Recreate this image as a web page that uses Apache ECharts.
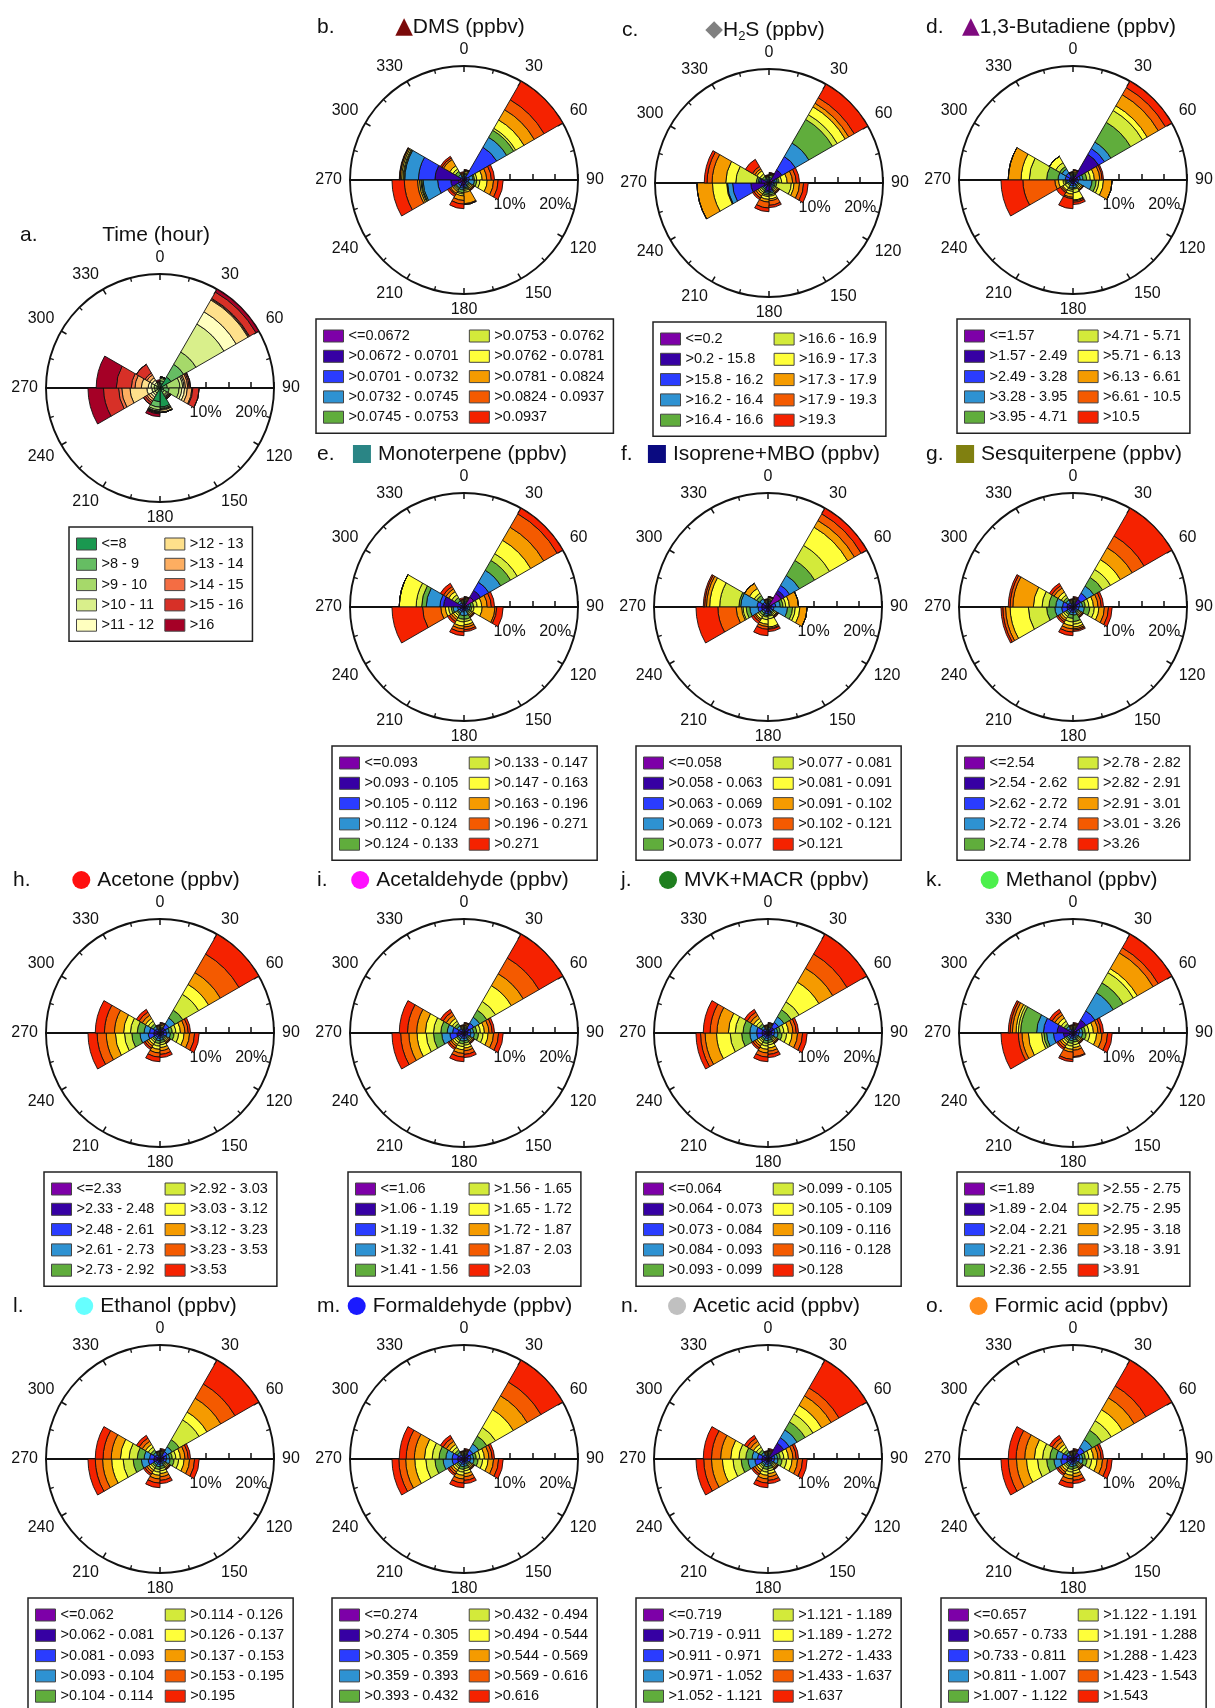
<!DOCTYPE html>
<html>
<head>
<meta charset="utf-8">
<script src="https://cdn.jsdelivr.net/npm/echarts@6/dist/echarts.min.js"></script>
<style>
  html, body { margin: 0; padding: 0; background: #fff; }
  #chart { width: 1215px; height: 1708px; }
</style>
</head>
<body>
<div id="chart"></div>
<script>
// wind sectors, clockwise from north
const sectors = ['0-30', '30-60', '60-90', '90-120', '120-150', '150-180',
  '180-210', '210-240', '240-270', '270-300', '300-330', '330-360'];

const rainbowColors = ['#7d00a8', '#3600a3', '#2a3cff', '#2e92d2', '#60ad3c',
  '#d3ea3a', '#ffff3a', '#f59b00', '#f45a00', '#f52200'];
const timeColors = ['#1a9850', '#66bd63', '#a6d96a', '#d9ef8b', '#ffffbf',
  '#fee08b', '#fdae61', '#f46d43', '#d73027', '#a50026'];

// legend class names
const timeNames = ['<=8', '>8 - 9', '>9 - 10', '>10 - 11', '>11 - 12', '>12 - 13', '>13 - 14', '>14 - 15', '>15 - 16', '>16'];
const dmsNames = ['<=0.0672', '>0.0672 - 0.0701', '>0.0701 - 0.0732', '>0.0732 - 0.0745', '>0.0745 - 0.0753', '>0.0753 - 0.0762', '>0.0762 - 0.0781', '>0.0781 - 0.0824', '>0.0824 - 0.0937', '>0.0937'];
const h2sNames = ['<=0.2', '>0.2 - 15.8', '>15.8 - 16.2', '>16.2 - 16.4', '>16.4 - 16.6', '>16.6 - 16.9', '>16.9 - 17.3', '>17.3 - 17.9', '>17.9 - 19.3', '>19.3'];
const butNames = ['<=1.57', '>1.57 - 2.49', '>2.49 - 3.28', '>3.28 - 3.95', '>3.95 - 4.71', '>4.71 - 5.71', '>5.71 - 6.13', '>6.13 - 6.61', '>6.61 - 10.5', '>10.5'];
const monoNames = ['<=0.093', '>0.093 - 0.105', '>0.105 - 0.112', '>0.112 - 0.124', '>0.124 - 0.133', '>0.133 - 0.147', '>0.147 - 0.163', '>0.163 - 0.196', '>0.196 - 0.271', '>0.271'];
const isoNames = ['<=0.058', '>0.058 - 0.063', '>0.063 - 0.069', '>0.069 - 0.073', '>0.073 - 0.077', '>0.077 - 0.081', '>0.081 - 0.091', '>0.091 - 0.102', '>0.102 - 0.121', '>0.121'];
const sesqNames = ['<=2.54', '>2.54 - 2.62', '>2.62 - 2.72', '>2.72 - 2.74', '>2.74 - 2.78', '>2.78 - 2.82', '>2.82 - 2.91', '>2.91 - 3.01', '>3.01 - 3.26', '>3.26'];
const acetoneNames = ['<=2.33', '>2.33 - 2.48', '>2.48 - 2.61', '>2.61 - 2.73', '>2.73 - 2.92', '>2.92 - 3.03', '>3.03 - 3.12', '>3.12 - 3.23', '>3.23 - 3.53', '>3.53'];
const acetalNames = ['<=1.06', '>1.06 - 1.19', '>1.19 - 1.32', '>1.32 - 1.41', '>1.41 - 1.56', '>1.56 - 1.65', '>1.65 - 1.72', '>1.72 - 1.87', '>1.87 - 2.03', '>2.03'];
const mvkNames = ['<=0.064', '>0.064 - 0.073', '>0.073 - 0.084', '>0.084 - 0.093', '>0.093 - 0.099', '>0.099 - 0.105', '>0.105 - 0.109', '>0.109 - 0.116', '>0.116 - 0.128', '>0.128'];
const methNames = ['<=1.89', '>1.89 - 2.04', '>2.04 - 2.21', '>2.21 - 2.36', '>2.36 - 2.55', '>2.55 - 2.75', '>2.75 - 2.95', '>2.95 - 3.18', '>3.18 - 3.91', '>3.91'];
const ethNames = ['<=0.062', '>0.062 - 0.081', '>0.081 - 0.093', '>0.093 - 0.104', '>0.104 - 0.114', '>0.114 - 0.126', '>0.126 - 0.137', '>0.137 - 0.153', '>0.153 - 0.195', '>0.195'];
const formaldNames = ['<=0.274', '>0.274 - 0.305', '>0.305 - 0.359', '>0.359 - 0.393', '>0.393 - 0.432', '>0.432 - 0.494', '>0.494 - 0.544', '>0.544 - 0.569', '>0.569 - 0.616', '>0.616'];
const aceticNames = ['<=0.719', '>0.719 - 0.911', '>0.911 - 0.971', '>0.971 - 1.052', '>1.052 - 1.121', '>1.121 - 1.189', '>1.189 - 1.272', '>1.272 - 1.433', '>1.433 - 1.637', '>1.637'];
const formicNames = ['<=0.657', '>0.657 - 0.733', '>0.733 - 0.811', '>0.811 - 1.007', '>1.007 - 1.122', '>1.122 - 1.191', '>1.191 - 1.288', '>1.288 - 1.423', '>1.423 - 1.543', '>1.543'];

// frequency (%) per sector (rows = sectors 0-30 ... 330-360), columns = legend classes
const timeData = [
  [1.0, 0.6, 0.5, 0.3, 0, 0, 0, 0, 0, 0],
  [2.8, 3.2, 3.1, 7.1, 3.1, 3.0, 0.2, 0.2, 1.6, 0.7],
  [0.6, 1.0, 2.8, 0.6, 0.3, 0.3, 0.5, 0.3, 0.3, 0],
  [0.8, 1.2, 2.2, 0.6, 0.6, 0.6, 1.0, 0.2, 1.4, 0],
  [0.6, 0.5, 0.6, 0.3, 0.2, 0.2, 0.2, 0, 0.2, 0],
  [4.2, 0.3, 0.2, 0.1, 0.1, 0.4, 0.1, 0, 0, 0],
  [3.0, 1.2, 0.6, 0.3, 0.1, 0.1, 0.1, 0.1, 0.2, 0.6],
  [0.3, 0.4, 0.6, 0.5, 0.5, 0.5, 0.5, 0.4, 0.5, 0],
  [0.3, 0.4, 0.5, 0.6, 1.1, 3.7, 1.8, 0.7, 3.3, 3.4],
  [0.3, 0.4, 0.6, 0.7, 0.6, 1.5, 1.4, 0.8, 3.3, 4.4],
  [0.2, 0.3, 0.4, 0.5, 0.6, 0.6, 0.7, 0.5, 2.2, 0],
  [0.2, 0.2, 0.2, 0.2, 0.2, 0.2, 0.1, 0.1, 0.1, 0.3]
];
const dmsData = [
  [0.3, 0.3, 0.3, 0.3, 0.2, 0.2, 0.3, 0.2, 0.1, 0.1],
  [0.3, 0.5, 7.5, 2.5, 1.8, 0.5, 2.1, 2.6, 2.5, 4.7],
  [0.3, 0.3, 0.6, 0.8, 0.3, 0.5, 1.2, 1.0, 1.0, 0.7],
  [0.2, 0.3, 0.5, 1.3, 0.5, 0.7, 1.6, 1.4, 1.0, 1.1],
  [0.2, 0.2, 0.4, 0.4, 0.3, 0.3, 0.3, 0.3, 0.2, 0.1],
  [0.5, 0.5, 0.4, 0.3, 0.3, 0.3, 0.4, 2.5, 0.2, 0],
  [1.0, 0.4, 0.4, 0.4, 0.6, 0.3, 0.4, 1.0, 0.8, 1.0],
  [0.6, 0.4, 0.5, 0.5, 0.3, 0.3, 0.3, 0.5, 0.3, 0.5],
  [1.2, 1.7, 2.9, 3.2, 0.3, 0.2, 0.3, 0.4, 2.9, 2.7],
  [0.8, 5.6, 3.6, 3.0, 0.2, 0.2, 0.3, 0.3, 0.1, 0.1],
  [0.3, 0.3, 0.3, 0.5, 0.8, 0.6, 0.8, 1.6, 0.4, 0.4],
  [0.2, 0.2, 0.2, 0.2, 0.1, 0.1, 0.2, 0.2, 0.2, 0.2]
];
const h2sData = [
  [0.3, 0.3, 0.3, 0.3, 0.5, 0.2, 0.1, 0.1, 0.1, 0.1],
  [1.0, 2.3, 3.4, 3.4, 6.0, 1.2, 2.0, 0.9, 1.4, 3.4],
  [0.6, 0.4, 0.4, 0.4, 0.4, 0.6, 1.2, 1.2, 0.8, 0.7],
  [0.3, 0.3, 0.4, 0.3, 0.4, 3.2, 0.6, 1.2, 0.9, 1.0],
  [0.3, 0.3, 0.3, 0.3, 0.3, 0.3, 0.3, 0.3, 0.2, 0.1],
  [0.6, 1.0, 0.3, 0.3, 0.4, 0.3, 0.6, 0.4, 1.0, 0.5],
  [0.5, 1.2, 0.3, 0.3, 0.4, 0.3, 0.6, 0.6, 1.3, 0.8],
  [0.5, 0.5, 0.3, 0.3, 0.4, 0.4, 0.4, 0.5, 0.5, 0.4],
  [1.0, 3.0, 4.0, 1.1, 0.1, 0.1, 3.1, 3.4, 0, 0],
  [0.5, 1.3, 0.3, 0.3, 0.4, 4.5, 2.2, 3.0, 1.1, 0.6],
  [0.3, 0.3, 0.3, 0.3, 0.5, 0.6, 0.8, 0.5, 0.6, 1.8],
  [0.2, 0.2, 0.2, 0.3, 0.3, 0.2, 0.1, 0.1, 0.1, 0.1]
];
const butData = [
  [0.5, 0.3, 0.2, 0.2, 0.2, 0.2, 0.2, 0.3, 0.1, 0.1],
  [1.0, 5.5, 1.5, 1.6, 5.0, 3.0, 1.2, 2.8, 1.8, 1.6],
  [0.4, 0.6, 0.6, 0.6, 0.8, 0.8, 0.9, 1.2, 0.5, 0.3],
  [0.3, 0.4, 0.5, 3.0, 0.9, 0.6, 1.0, 1.9, 0, 0],
  [0.3, 0.3, 0.4, 0.3, 0.3, 0.3, 0.3, 0.3, 0.1, 0.1],
  [0.4, 0.4, 0.4, 0.5, 0.3, 0.8, 1.6, 0.2, 0.3, 0.5],
  [0.3, 0.5, 0.5, 0.5, 0.3, 0.4, 0.6, 0.7, 0.3, 2.2],
  [0.2, 0.3, 0.3, 0.3, 0.3, 0.6, 0.6, 0.3, 0.3, 1.0],
  [0.4, 0.4, 0.4, 0.3, 0.3, 0.4, 1.0, 0.8, 7.0, 4.8],
  [0.3, 0.5, 0.9, 1.6, 2.5, 3.8, 1.8, 2.8, 0, 0],
  [0.3, 0.5, 1.0, 1.0, 0.6, 1.0, 1.6, 0, 0, 0],
  [0.3, 0.3, 0.3, 0.2, 0.2, 0.2, 0.1, 0.1, 0.05, 0.05]
];
const monoData = [
  [0.6, 0.3, 0.2, 0.2, 0.2, 0.2, 0.2, 0.2, 0.1, 0.1],
  [2.5, 1.7, 2.1, 3.0, 2.5, 1.7, 3.4, 3.3, 3.4, 1.4],
  [0.3, 0.4, 0.4, 0.4, 0.6, 0.8, 1.0, 1.2, 0.9, 0.7],
  [0.2, 0.3, 0.4, 0.4, 0.4, 0.5, 1.8, 2.8, 0.4, 1.4],
  [0.3, 0.3, 0.3, 0.3, 0.3, 0.3, 0.3, 0.3, 0.2, 0.1],
  [0.3, 0.3, 0.3, 1.0, 0.8, 0.5, 0.7, 0.5, 0.6, 0.4],
  [0.3, 0.4, 0.4, 0.8, 0.8, 0.6, 0.9, 0.6, 0.7, 0.8],
  [0.3, 0.4, 0.4, 0.4, 0.3, 0.4, 0.5, 0.5, 0.5, 0.5],
  [0.4, 0.5, 0.5, 1.0, 0.4, 0.6, 0.7, 1.0, 4.0, 6.7],
  [0.6, 3.9, 0.8, 3.0, 1.0, 1.2, 3.7, 0, 0, 0],
  [0.3, 0.4, 0.4, 0.5, 0.8, 0.7, 0.8, 0.7, 0.6, 0.8],
  [0.2, 0.2, 0.2, 0.2, 0.2, 0.2, 0.2, 0.2, 0.1, 0.3]
];
const isoData = [
  [0.5, 0.3, 0.3, 0.2, 0.2, 0.2, 0.3, 0.2, 0.05, 0.05],
  [3.4, 0.8, 1.3, 2.5, 3.8, 3.8, 4.6, 1.7, 1.7, 1.4],
  [0.5, 0.4, 0.8, 1.0, 0.6, 0.6, 0.8, 2.0, 0, 0],
  [0.3, 0.4, 0.6, 3.0, 1.1, 0.6, 1.0, 1.6, 0, 0],
  [0.4, 0.3, 0.3, 0.3, 0.3, 0.3, 0.3, 0.2, 0.2, 0.1],
  [0.4, 0.6, 0.4, 0.3, 0.3, 0.6, 1.8, 0.3, 0.2, 0.5],
  [0.4, 0.7, 0.4, 0.4, 0.3, 0.6, 1.0, 0.5, 0.6, 1.4],
  [0.3, 0.3, 0.6, 0.4, 0.5, 0.4, 0.5, 0.3, 0.4, 0.5],
  [0.5, 0.9, 0.8, 1.8, 0.8, 0.7, 0.3, 1.2, 4.0, 4.8],
  [0.6, 0.8, 1.0, 3.6, 0.4, 4.2, 2.2, 0.7, 0.4, 0.3],
  [0.3, 0.4, 0.6, 0.8, 0.8, 0.6, 1.2, 1.3, 0, 0],
  [0.2, 0.2, 0.2, 0.2, 0.2, 0.2, 0.2, 0.2, 0.1, 0.1]
];
const sesqData = [
  [0.3, 0.3, 0.3, 0.2, 0.2, 0.2, 0.2, 0.2, 0.2, 0.2],
  [0.8, 1.2, 1.5, 1.8, 2.2, 2.0, 2.5, 3.0, 3.0, 7.0],
  [0.4, 0.5, 0.6, 0.6, 0.6, 0.8, 1.0, 1.0, 0.7, 0.5],
  [0.3, 0.4, 0.6, 1.2, 1.2, 1.0, 1.0, 1.2, 0.9, 0.8],
  [0.3, 0.3, 0.3, 0.3, 0.3, 0.3, 0.3, 0.3, 0.2, 0.1],
  [0.3, 0.4, 0.5, 0.6, 1.4, 0.6, 0.6, 0.4, 0.3, 0.3],
  [0.3, 0.4, 0.5, 0.5, 0.8, 0.8, 0.8, 0.7, 0.7, 0.8],
  [0.3, 0.4, 0.4, 0.4, 0.4, 0.5, 0.5, 0.5, 0.4, 0.4],
  [0.5, 0.8, 1.2, 1.5, 1.8, 4.0, 4.0, 1.0, 0.6, 0.4],
  [0.5, 0.8, 1.0, 1.5, 1.5, 1.5, 1.9, 4.5, 0.6, 0.4],
  [0.3, 0.4, 0.5, 0.6, 0.6, 0.6, 0.8, 1.0, 0.6, 0.6],
  [0.2, 0.2, 0.2, 0.2, 0.2, 0.2, 0.2, 0.2, 0.1, 0.1]
];
const acetoneData = [
  [0.3, 0.3, 0.2, 0.2, 0.2, 0.2, 0.3, 0.3, 0.2, 0.1],
  [0.5, 0.8, 1.0, 1.5, 2.0, 4.0, 2.5, 3.0, 4.7, 5.0],
  [0.4, 0.5, 0.5, 0.6, 0.7, 0.8, 1.0, 1.0, 0.7, 0.5],
  [0.3, 0.5, 0.7, 0.8, 0.8, 1.0, 1.2, 1.2, 1.1, 1.0],
  [0.3, 0.3, 0.3, 0.3, 0.3, 0.3, 0.3, 0.3, 0.2, 0.1],
  [0.3, 0.4, 0.4, 0.5, 0.5, 0.5, 0.6, 0.7, 0.8, 0.7],
  [0.3, 0.4, 0.5, 0.5, 0.6, 0.6, 0.7, 0.8, 0.9, 1.0],
  [0.3, 0.4, 0.4, 0.4, 0.4, 0.4, 0.5, 0.5, 0.5, 0.4],
  [0.6, 0.8, 1.2, 1.8, 1.8, 1.6, 2.0, 2.0, 2.0, 2.0],
  [0.5, 0.8, 1.0, 1.2, 1.5, 1.5, 1.5, 2.0, 2.2, 2.0],
  [0.3, 0.4, 0.5, 0.5, 0.6, 0.7, 0.7, 0.8, 0.8, 0.7],
  [0.2, 0.2, 0.2, 0.2, 0.2, 0.2, 0.2, 0.2, 0.1, 0.1]
];
const acetalData = [
  [0.3, 0.3, 0.3, 0.2, 0.2, 0.2, 0.2, 0.3, 0.2, 0.1],
  [0.5, 0.8, 1.2, 1.5, 1.8, 2.2, 4.0, 3.0, 4.0, 6.0],
  [0.4, 0.5, 0.6, 0.6, 0.7, 0.8, 0.9, 1.0, 0.7, 0.5],
  [0.3, 0.5, 0.7, 0.8, 0.9, 1.0, 1.1, 1.2, 1.1, 1.0],
  [0.3, 0.3, 0.3, 0.3, 0.3, 0.3, 0.3, 0.3, 0.2, 0.1],
  [0.3, 0.4, 0.5, 0.5, 0.5, 0.5, 0.6, 0.6, 0.8, 0.7],
  [0.3, 0.4, 0.5, 0.6, 0.6, 0.6, 0.7, 0.8, 0.8, 1.0],
  [0.3, 0.4, 0.4, 0.4, 0.4, 0.5, 0.5, 0.4, 0.5, 0.4],
  [0.6, 1.0, 1.5, 1.8, 1.8, 1.6, 2.0, 1.8, 1.8, 1.9],
  [0.5, 0.8, 1.2, 1.2, 1.4, 1.6, 1.8, 1.9, 2.0, 1.8],
  [0.3, 0.4, 0.5, 0.6, 0.6, 0.6, 0.7, 0.8, 0.8, 0.7],
  [0.2, 0.2, 0.2, 0.2, 0.2, 0.2, 0.2, 0.2, 0.1, 0.1]
];
const mvkData = [
  [0.3, 0.3, 0.3, 0.3, 0.2, 0.2, 0.2, 0.2, 0.2, 0.1],
  [0.6, 0.9, 1.2, 1.4, 1.8, 2.0, 5.0, 3.5, 3.6, 5.0],
  [0.4, 0.5, 0.6, 0.6, 0.6, 0.8, 1.0, 1.0, 0.7, 0.5],
  [0.3, 0.5, 0.6, 0.8, 0.9, 1.0, 1.2, 1.2, 1.1, 1.0],
  [0.3, 0.3, 0.3, 0.3, 0.3, 0.3, 0.3, 0.3, 0.2, 0.1],
  [0.3, 0.4, 0.4, 0.5, 0.5, 0.5, 0.7, 0.7, 0.7, 0.7],
  [0.3, 0.4, 0.5, 0.5, 0.6, 0.6, 0.7, 0.8, 0.9, 1.0],
  [0.3, 0.4, 0.4, 0.4, 0.4, 0.4, 0.5, 0.5, 0.5, 0.4],
  [0.5, 0.8, 1.2, 1.5, 1.8, 2.5, 3.0, 2.5, 1.0, 1.0],
  [0.5, 0.8, 1.2, 1.5, 1.5, 1.7, 1.5, 2.5, 1.5, 1.5],
  [0.3, 0.4, 0.5, 0.5, 0.6, 0.7, 0.7, 0.8, 0.8, 0.7],
  [0.2, 0.2, 0.2, 0.2, 0.2, 0.2, 0.2, 0.2, 0.1, 0.1]
];
const methData = [
  [0.3, 0.3, 0.3, 0.2, 0.2, 0.2, 0.2, 0.2, 0.2, 0.2],
  [1.0, 2.3, 2.3, 4.6, 2.5, 2.6, 1.0, 4.0, 1.3, 3.4],
  [0.4, 0.5, 0.6, 0.6, 0.6, 0.8, 1.0, 1.0, 0.6, 0.6],
  [0.3, 0.4, 0.6, 0.8, 0.8, 0.8, 1.5, 1.2, 1.2, 1.0],
  [0.3, 0.3, 0.3, 0.3, 0.3, 0.3, 0.3, 0.3, 0.2, 0.1],
  [0.3, 0.4, 0.4, 0.4, 0.5, 0.6, 0.6, 0.6, 1.4, 0.2],
  [0.3, 0.4, 0.5, 0.5, 0.6, 0.6, 0.7, 0.6, 1.6, 0.5],
  [0.3, 0.4, 0.4, 0.4, 0.4, 0.4, 0.5, 0.5, 0.5, 0.4],
  [0.8, 1.3, 2.2, 1.5, 0.6, 0.5, 2.9, 1.4, 0.8, 3.8],
  [0.5, 3.0, 3.0, 1.5, 3.5, 0.5, 0.5, 0.8, 0.5, 0.4],
  [0.3, 0.4, 0.5, 0.5, 0.6, 0.7, 0.8, 0.8, 0.7, 0.7],
  [0.2, 0.2, 0.2, 0.2, 0.2, 0.2, 0.2, 0.2, 0.1, 0.1]
];
const ethData = [
  [0.3, 0.3, 0.3, 0.2, 0.2, 0.2, 0.2, 0.2, 0.2, 0.2],
  [0.4, 0.6, 0.9, 1.2, 1.8, 5.0, 2.0, 3.5, 3.6, 6.0],
  [0.4, 0.5, 0.6, 0.6, 0.6, 0.8, 1.0, 1.0, 0.7, 0.5],
  [0.3, 0.5, 0.6, 0.8, 0.9, 1.0, 1.2, 1.2, 1.1, 1.0],
  [0.3, 0.3, 0.3, 0.3, 0.3, 0.3, 0.3, 0.3, 0.2, 0.1],
  [0.3, 0.4, 0.4, 0.5, 0.5, 0.5, 0.6, 0.7, 0.8, 0.7],
  [0.3, 0.4, 0.5, 0.5, 0.6, 0.6, 0.7, 0.8, 0.9, 1.0],
  [0.3, 0.4, 0.4, 0.4, 0.4, 0.4, 0.5, 0.5, 0.5, 0.4],
  [0.6, 0.8, 1.2, 1.5, 1.8, 2.2, 2.5, 2.0, 1.6, 1.6],
  [0.5, 0.8, 1.0, 1.2, 1.5, 1.8, 1.9, 2.0, 1.8, 1.7],
  [0.3, 0.4, 0.5, 0.5, 0.6, 0.7, 0.7, 0.8, 0.8, 0.7],
  [0.2, 0.2, 0.2, 0.2, 0.2, 0.2, 0.2, 0.2, 0.1, 0.1]
];
const formaldData = [
  [0.3, 0.3, 0.3, 0.2, 0.2, 0.2, 0.2, 0.2, 0.2, 0.2],
  [0.5, 0.8, 1.0, 1.5, 2.0, 2.2, 4.5, 3.5, 3.5, 5.5],
  [0.4, 0.5, 0.6, 0.6, 0.6, 0.8, 1.0, 1.0, 0.7, 0.5],
  [0.3, 0.5, 0.6, 0.8, 0.9, 1.0, 1.2, 1.2, 1.1, 1.0],
  [0.3, 0.3, 0.3, 0.3, 0.3, 0.3, 0.3, 0.3, 0.2, 0.1],
  [0.3, 0.4, 0.4, 0.5, 0.5, 0.5, 0.6, 0.7, 0.8, 0.7],
  [0.3, 0.4, 0.5, 0.5, 0.6, 0.6, 0.7, 0.8, 0.9, 1.0],
  [0.3, 0.4, 0.4, 0.4, 0.4, 0.4, 0.5, 0.5, 0.5, 0.4],
  [0.6, 0.8, 1.2, 2.0, 1.8, 2.0, 2.4, 2.0, 1.5, 1.5],
  [0.6, 0.8, 1.2, 1.4, 1.5, 1.5, 1.7, 2.2, 1.8, 1.5],
  [0.3, 0.4, 0.5, 0.5, 0.6, 0.7, 0.7, 0.8, 0.8, 0.7],
  [0.2, 0.2, 0.2, 0.2, 0.2, 0.2, 0.2, 0.2, 0.1, 0.1]
];
const aceticData = [
  [0.3, 0.3, 0.3, 0.2, 0.2, 0.2, 0.2, 0.2, 0.2, 0.2],
  [0.6, 3.4, 1.4, 2.0, 2.0, 2.0, 2.2, 2.4, 2.0, 7.0],
  [0.4, 0.5, 0.6, 0.6, 0.6, 0.8, 1.0, 1.0, 0.7, 0.5],
  [0.3, 0.5, 0.6, 0.8, 0.9, 1.0, 1.2, 1.2, 1.1, 1.0],
  [0.3, 0.3, 0.3, 0.3, 0.3, 0.3, 0.3, 0.3, 0.2, 0.1],
  [0.3, 0.4, 0.4, 0.5, 0.5, 0.5, 0.6, 0.7, 0.8, 0.7],
  [0.3, 0.4, 0.5, 0.5, 0.6, 0.6, 0.7, 0.8, 0.9, 1.0],
  [0.3, 0.4, 0.4, 0.4, 0.4, 0.4, 0.5, 0.5, 0.5, 0.4],
  [0.6, 0.8, 1.5, 1.5, 1.5, 1.8, 2.3, 2.4, 1.7, 1.7],
  [0.5, 0.8, 1.0, 1.2, 1.4, 1.5, 1.8, 2.2, 2.0, 1.8],
  [0.3, 0.4, 0.5, 0.5, 0.6, 0.7, 0.7, 0.8, 0.8, 0.7],
  [0.2, 0.2, 0.2, 0.2, 0.2, 0.2, 0.2, 0.2, 0.1, 0.1]
];
const formicData = [
  [0.3, 0.3, 0.3, 0.2, 0.2, 0.2, 0.2, 0.2, 0.2, 0.2],
  [0.6, 1.0, 1.3, 2.0, 2.4, 2.4, 2.8, 3.0, 3.0, 6.5],
  [0.4, 0.5, 0.6, 0.6, 0.6, 0.8, 1.0, 1.0, 0.7, 0.5],
  [0.3, 0.5, 0.6, 0.8, 0.9, 1.0, 1.2, 1.2, 1.1, 1.0],
  [0.3, 0.3, 0.3, 0.3, 0.3, 0.3, 0.3, 0.3, 0.2, 0.1],
  [0.3, 0.4, 0.4, 0.5, 0.5, 0.5, 0.6, 0.7, 0.8, 0.7],
  [0.3, 0.4, 0.5, 0.5, 0.6, 0.6, 0.7, 0.8, 0.9, 1.0],
  [0.3, 0.4, 0.4, 0.4, 0.4, 0.4, 0.5, 0.5, 0.5, 0.4],
  [0.6, 0.8, 1.3, 1.5, 1.6, 2.0, 2.4, 2.2, 1.8, 1.6],
  [0.5, 0.8, 1.1, 1.3, 1.4, 1.6, 1.8, 2.1, 1.9, 1.7],
  [0.3, 0.4, 0.5, 0.5, 0.6, 0.7, 0.7, 0.8, 0.8, 0.7],
  [0.2, 0.2, 0.2, 0.2, 0.2, 0.2, 0.2, 0.2, 0.1, 0.1]
];

// panel layout: marker = title symbol
const panels = [
  { letter: 'a.', title: 'Time (hour)', names: timeNames, data: timeData, colors: timeColors, cx: 160, cy: 388 },
  { letter: 'b.', title: 'DMS (ppbv)', marker: 'tri', mColor: '#7a0a0a', names: dmsNames, data: dmsData, cx: 464, cy: 180 },
  { letter: 'c.', title: 'H2S', marker: 'dia', mColor: '#808080', names: h2sNames, data: h2sData, cx: 769, cy: 183 },
  { letter: 'd.', title: '1,3-Butadiene (ppbv)', marker: 'tri', mColor: '#7e0a7e', names: butNames, data: butData, cx: 1073, cy: 180 },
  { letter: 'e.', title: 'Monoterpene (ppbv)', marker: 'sq', mColor: '#2a8585', names: monoNames, data: monoData, cx: 464, cy: 607 },
  { letter: 'f.', title: 'Isoprene+MBO (ppbv)', marker: 'sq', mColor: '#0a0a80', names: isoNames, data: isoData, cx: 768, cy: 607 },
  { letter: 'g.', title: 'Sesquiterpene (ppbv)', marker: 'sq', mColor: '#808010', names: sesqNames, data: sesqData, cx: 1073, cy: 607 },
  { letter: 'h.', title: 'Acetone (ppbv)', marker: 'dot', mColor: '#ff1010', names: acetoneNames, data: acetoneData, cx: 160, cy: 1033 },
  { letter: 'i.', title: 'Acetaldehyde (ppbv)', marker: 'dot', mColor: '#ff10ff', names: acetalNames, data: acetalData, cx: 464, cy: 1033 },
  { letter: 'j.', title: 'MVK+MACR (ppbv)', marker: 'dot', mColor: '#1f7f1f', names: mvkNames, data: mvkData, cx: 768, cy: 1033 },
  { letter: 'k.', title: 'Methanol (ppbv)', marker: 'dot', mColor: '#4cf04c', names: methNames, data: methData, cx: 1073, cy: 1033 },
  { letter: 'l.', title: 'Ethanol (ppbv)', marker: 'dot', mColor: '#66ffff', names: ethNames, data: ethData, cx: 160, cy: 1459 },
  { letter: 'm.', title: 'Formaldehyde (ppbv)', marker: 'dot', mColor: '#1a1aff', names: formaldNames, data: formaldData, cx: 464, cy: 1459 },
  { letter: 'n.', title: 'Acetic acid (ppbv)', marker: 'dot', mColor: '#c0c0c0', names: aceticNames, data: aceticData, cx: 768, cy: 1459 },
  { letter: 'o.', title: 'Formic acid (ppbv)', marker: 'dot', mColor: '#ff8c1a', names: formicNames, data: formicData, cx: 1073, cy: 1459 }
];

const FONT = "'Liberation Sans', Arial, Helvetica, sans-serif";
const R = 114;
const RMAX = 25;
const LEG_FONT = 14.5;

const measure = document.createElement('canvas').getContext('2d');
measure.font = LEG_FONT + 'px "Liberation Sans"';
const textW = (s) => measure.measureText(s).width;

function titleRich(p) {
  let s = '';
  if (p.marker === 'tri') s += '{tri|▲}';
  else if (p.marker === 'dia') s += '{tri|◆}';
  else if (p.marker === 'sq') s += '{sq| }{gap| }';
  else if (p.marker === 'dot') s += '{dot| }{gap| }';
  if (p.title === 'H2S') s += '{t|H}{sub|2}{t|S (ppbv)}';
  else s += '{t|' + p.title + '}';
  return s;
}

const option = {
  animation: false,
  backgroundColor: '#fff',
  title: [],
  polar: [],
  angleAxis: [],
  radiusAxis: [],
  legend: [],
  series: []
};

const lineCol = '#111';

panels.forEach((p, i) => {
  const colors = p.colors || rainbowColors;
  const ty = p.cy - 153;

  // titles
  option.title.push({
    text: p.letter, left: p.cx - (i === 0 ? 140 : 147), top: ty, textVerticalAlign: 'middle', padding: 0,
    textStyle: { fontSize: 21, fontWeight: 'normal', color: lineCol, fontFamily: FONT }
  });
  option.title.push({
    text: titleRich(p), left: p.cx - 4, top: ty, textAlign: 'center', textVerticalAlign: 'middle', padding: 0,
    textStyle: {
      fontSize: 21, fontWeight: 'normal', color: lineCol, fontFamily: FONT,
      rich: {
        t: { fontSize: 21, fontFamily: FONT, color: lineCol, lineHeight: 26 },
        sub: { fontSize: 13, fontFamily: FONT, color: lineCol, lineHeight: 15, verticalAlign: 'bottom' },
        tri: { fontSize: 23, fontFamily: "'DejaVu Sans'", color: p.mColor, lineHeight: 26 },
        sq: { width: 18, height: 18, backgroundColor: p.mColor },
        dot: { width: 18, height: 18, borderRadius: 9, backgroundColor: p.mColor },
        gap: { width: 7 }
      }
    }
  });

  // polar 3i: bars, 3i+1: circle + east radius axis, 3i+2: west half of the line
  for (let k = 0; k < 3; k++) option.polar.push({ center: [p.cx, p.cy], radius: R });
  const pb = 3 * i;

  option.angleAxis.push({
    polarIndex: pb, type: 'category', data: sectors, startAngle: 90, clockwise: true, boundaryGap: true,
    axisLine: { show: false }, axisTick: { show: false }, axisLabel: { show: false }, splitLine: { show: false }
  });
  option.radiusAxis.push({
    polarIndex: pb, type: 'value', min: 0, max: RMAX,
    axisLine: { show: false }, axisTick: { show: false }, axisLabel: { show: false }, splitLine: { show: false }
  });

  option.angleAxis.push({
    polarIndex: pb + 1, type: 'value', min: 90, max: 450, interval: 30, startAngle: 0, clockwise: true,
    axisLine: { lineStyle: { color: lineCol, width: 1.9 } },
    axisTick: { inside: true, length: 6, lineStyle: { color: lineCol, width: 1.5 } },
    minorTick: { show: true, splitNumber: 2, length: 4, lineStyle: { color: lineCol, width: 1.3 } },
    axisLabel: { formatter: (v) => String(v % 360), fontSize: 16, color: lineCol, margin: 8, fontFamily: FONT },
    splitLine: { show: false }
  });
  option.radiusAxis.push({
    polarIndex: pb + 1, type: 'value', min: 0, max: RMAX, interval: 5,
    axisLine: { lineStyle: { color: lineCol, width: 1.9 } },
    axisTick: { inside: true, length: 6, lineStyle: { color: lineCol, width: 1.5 } },
    axisLabel: {
      formatter: (v) => (v === 10 || v === 20 ? v + '%' : ''),
      fontSize: 16, color: lineCol, margin: -17, verticalAlign: 'top', fontFamily: FONT
    },
    splitLine: { show: false }
  });

  option.angleAxis.push({
    polarIndex: pb + 2, type: 'value', min: 0, max: 360, startAngle: 180,
    axisLine: { show: false }, axisTick: { show: false }, axisLabel: { show: false }, splitLine: { show: false }
  });
  option.radiusAxis.push({
    polarIndex: pb + 2, type: 'value', min: 0, max: RMAX,
    axisLine: { lineStyle: { color: lineCol, width: 1.9 } },
    axisTick: { show: false }, axisLabel: { show: false }, splitLine: { show: false }
  });

  // stacked sectors
  p.names.forEach((name, k) => {
    option.series.push({
      type: 'bar', coordinateSystem: 'polar', polarIndex: pb, name: name, stack: 'st' + i,
      data: p.data.map((row) => row[k]),
      barCategoryGap: '0%',
      itemStyle: { color: colors[k], borderColor: '#111', borderWidth: 0.9 },
      silent: true
    });
  });

  // legend box, two columns, centred under the rose
  const w1 = Math.max(...p.names.slice(0, 5).map(textW));
  const w2 = Math.max(...p.names.slice(5).map(textW));
  const legW = 7 + (25 + w1 + 6) + 4 + (25 + w2 + 6) + 3;
  option.legend.push({
    data: p.names, orient: 'vertical', left: Math.round(p.cx - legW / 2), top: p.cy + 139,
    height: 100, itemWidth: 20, itemHeight: 12, itemGap: 4.3,
    padding: [9, 3, 8, 7], borderColor: '#222', borderWidth: 1.5, backgroundColor: '#fff',
    selectedMode: false, icon: 'rect',
    itemStyle: { borderColor: '#444', borderWidth: 1 },
    textStyle: { fontSize: LEG_FONT, color: lineCol, fontFamily: FONT, lineHeight: 16, padding: [0, 6, 0, 0] }
  });
});

const chart = echarts.init(document.getElementById('chart'), null, { renderer: 'canvas' });
chart.setOption(option);
</script>
</body>
</html>
